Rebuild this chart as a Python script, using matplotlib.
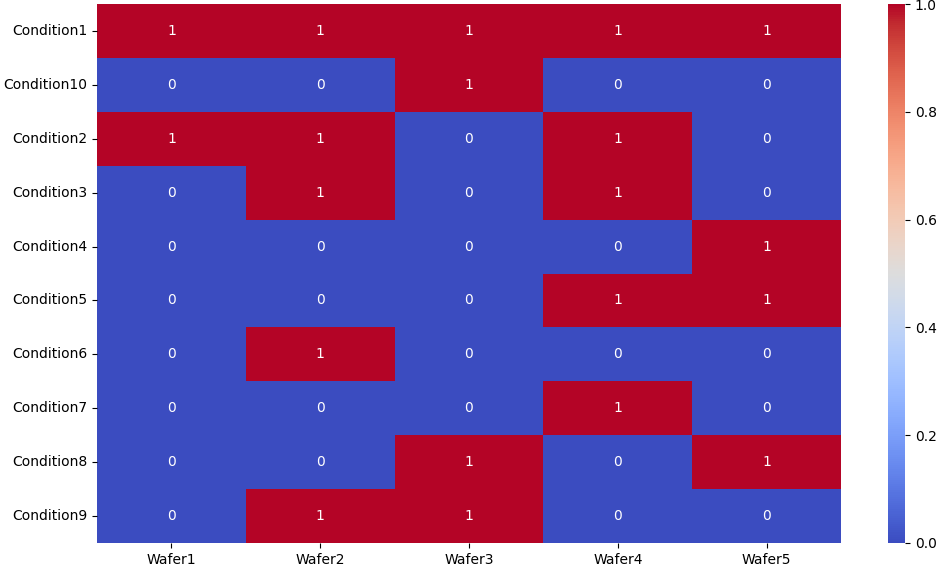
import pandas as pd
import matplotlib
matplotlib.use("Agg")
import matplotlib.pyplot as plt
import seaborn as sns

conditions = ["Condition1", "Condition10", "Condition2", "Condition3", "Condition4",
              "Condition5", "Condition6", "Condition7", "Condition8", "Condition9"]
wafers = ["Wafer1", "Wafer2", "Wafer3", "Wafer4", "Wafer5"]

wafer1 = [1, 0, 1, 0, 0, 0, 0, 0, 0, 0]
wafer2 = [1, 0, 1, 1, 0, 0, 1, 0, 0, 1]
wafer3 = [1, 1, 0, 0, 0, 0, 0, 0, 1, 1]
wafer4 = [1, 0, 1, 1, 0, 1, 0, 1, 0, 0]
wafer5 = [1, 0, 0, 0, 1, 1, 0, 0, 1, 0]

df = pd.DataFrame({"Wafer1": wafer1, "Wafer2": wafer2, "Wafer3": wafer3,
                   "Wafer4": wafer4, "Wafer5": wafer5}, index=conditions)

fig = plt.figure(figsize=(9.45, 5.66), dpi=100)
ax = fig.add_axes([97 / 945, 1 - 543 / 566, (841 - 97) / 945, (543 - 4) / 566])
cax = fig.add_axes([888 / 945, 1 - 543 / 566, 17 / 945, (543 - 4) / 566])

sns.heatmap(df, annot=True, cmap="coolwarm", ax=ax, cbar_ax=cax)
ax.set_ylabel("")
ax.set_xlabel("")

plt.savefig("out.png", dpi=100)
